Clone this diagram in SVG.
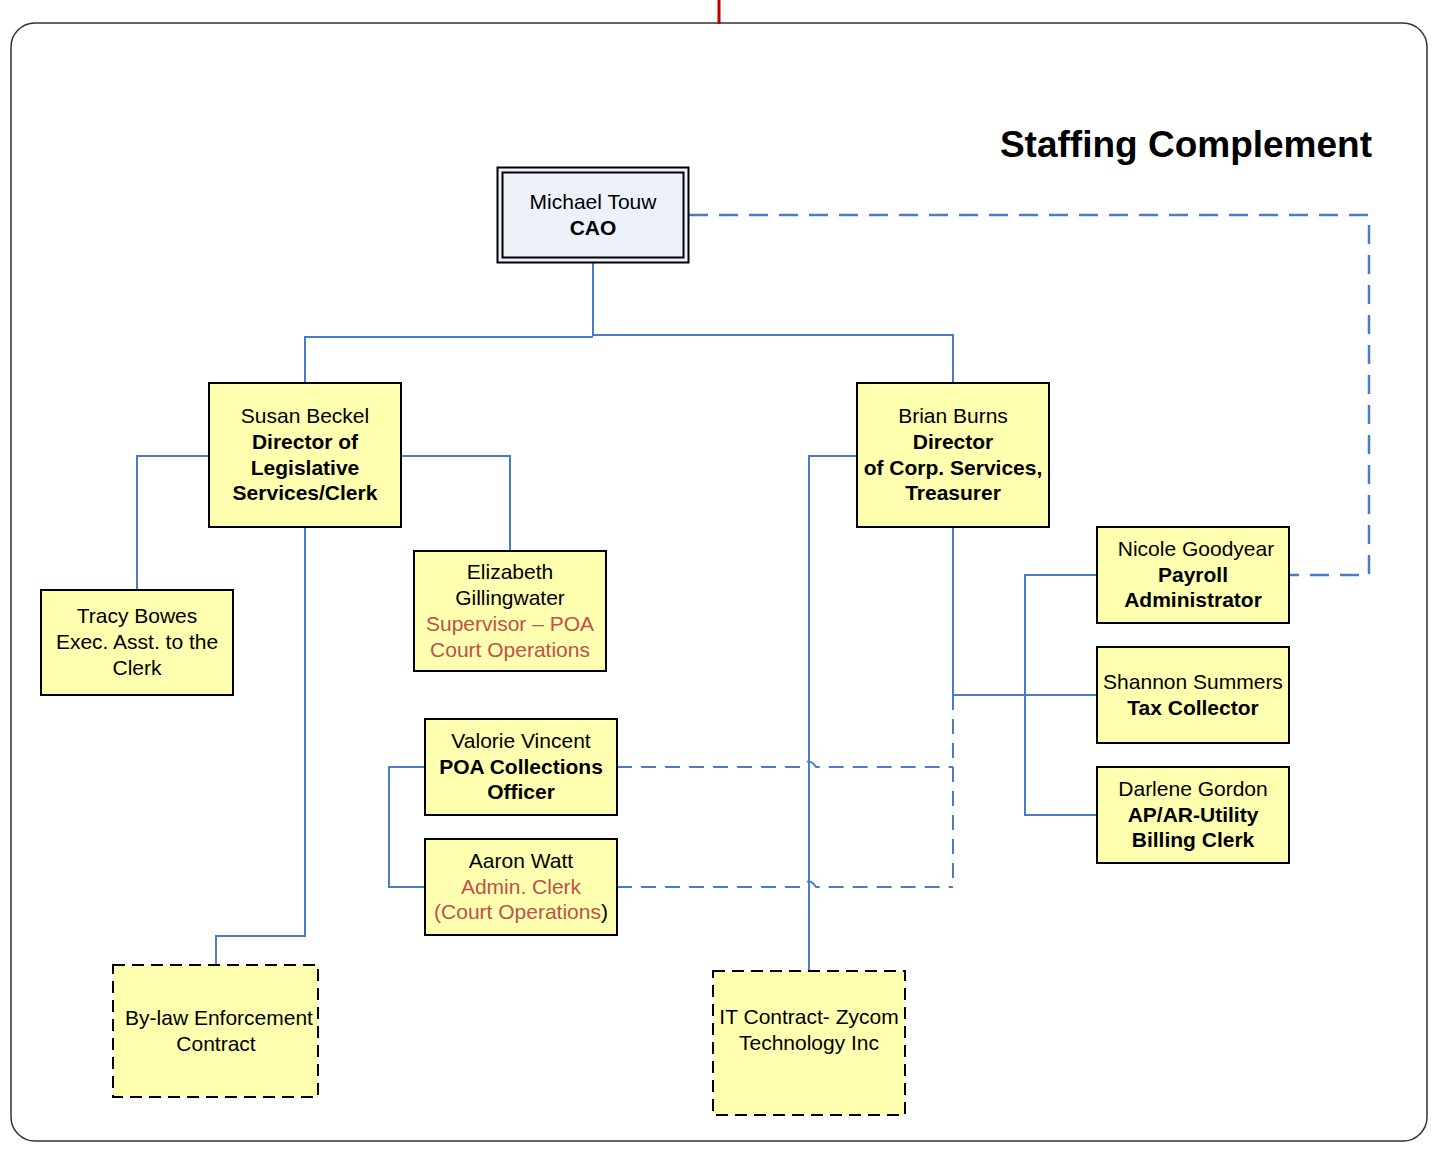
<svg xmlns="http://www.w3.org/2000/svg" width="1448" height="1149" viewBox="0 0 1448 1149">
<style>
text{font-family:"Liberation Sans",Arial,sans-serif;font-size:21px;fill:#000;text-anchor:middle}
.b{font-weight:bold}
.r{fill:#C0504D}
.box{fill:#FFFFB0;stroke:#000;stroke-width:2}
.dbox{fill:#FFFFB0;stroke:#000;stroke-width:2;stroke-dasharray:12 7}
.c{fill:none;stroke:#4A7CC7;stroke-width:2}
.cd{fill:none;stroke:#4A7CC7;stroke-width:2;stroke-dasharray:15 9}
.cd2{fill:none;stroke:#4A7CC7;stroke-width:2.5;stroke-dasharray:19 11}
</style>
<rect x="11" y="23" width="1416" height="1118" rx="24" fill="#fff" stroke="#333" stroke-width="1.5"/>
<line x1="719" y1="0" x2="719" y2="24" stroke="#C00000" stroke-width="3"/>
<text x="1372" y="157" class="b" style="font-size:37px;text-anchor:end">Staffing Complement</text>
<g id="connectors">
<path class="c" d="M593,263 V336 M305,383 V337 H593 M593,335 H953 V383"/>
<path class="c" d="M209,456 H137 V590"/>
<path class="c" d="M401,456 H510 V551"/>
<path class="c" d="M305,527 V936 H216 V965"/>
<path class="c" d="M857,456 H809 V971"/>
<path class="c" d="M953,527 V695 H1097"/>
<path class="c" d="M1097,575 H1025 V815 H1097"/>
<path class="c" d="M425,767 H389 V887 H425"/>
<path class="cd" d="M953,695 V887"/>
<path class="cd" d="M617,767 H802 Q809,756 816,767 H953"/>
<path class="cd" d="M617,887 H802 Q809,876 816,887 H953"/>
<path class="cd2" d="M689,215 H1369 V575 H1289"/>
</g>
<g id="cao">
<rect x="497.5" y="167.5" width="191" height="95" fill="#EDF1F9" stroke="#000" stroke-width="2"/>
<rect x="502.5" y="172.5" width="181" height="85" fill="none" stroke="#000" stroke-width="2"/>
<text x="593" y="209">Michael Touw</text>
<text x="593" y="235" class="b">CAO</text>
</g>
<g id="susan">
<rect class="box" x="209" y="383" width="192" height="144"/>
<text x="305" y="423">Susan Beckel</text>
<text x="305" y="449" class="b">Director of</text>
<text x="305" y="475" class="b">Legislative</text>
<text x="305" y="500" class="b">Services/Clerk</text>
</g>
<g id="brian">
<rect class="box" x="857" y="383" width="192" height="144"/>
<text x="953" y="423">Brian Burns</text>
<text x="953" y="449" class="b">Director</text>
<text x="953" y="475" class="b">of Corp. Services,</text>
<text x="953" y="500" class="b">Treasurer</text>
</g>
<g id="tracy">
<rect class="box" x="41" y="590" width="192" height="105"/>
<text x="137" y="623">Tracy Bowes</text>
<text x="137" y="649">Exec. Asst. to the</text>
<text x="137" y="675">Clerk</text>
</g>
<g id="elizabeth">
<rect class="box" x="414" y="551" width="192" height="120"/>
<text x="510" y="579">Elizabeth</text>
<text x="510" y="605">Gillingwater</text>
<text x="510" y="631" class="r">Supervisor – POA</text>
<text x="510" y="657" class="r">Court Operations</text>
</g>
<g id="valorie">
<rect class="box" x="425" y="719" width="192" height="96"/>
<text x="521" y="748">Valorie Vincent</text>
<text x="521" y="774" class="b">POA Collections</text>
<text x="521" y="799" class="b">Officer</text>
</g>
<g id="aaron">
<rect class="box" x="425" y="839" width="192" height="96"/>
<text x="521" y="868">Aaron Watt</text>
<text x="521" y="894" class="r">Admin. Clerk</text>
<text x="521" y="919"><tspan class="r">(Court Operations</tspan>)</text>
</g>
<g id="nicole">
<rect class="box" x="1097" y="527" width="192" height="96"/>
<text x="1196" y="556">Nicole Goodyear</text>
<text x="1193" y="582" class="b">Payroll</text>
<text x="1193" y="607" class="b">Administrator</text>
</g>
<g id="shannon">
<rect class="box" x="1097" y="647" width="192" height="96"/>
<text x="1193" y="689">Shannon Summers</text>
<text x="1193" y="715" class="b">Tax Collector</text>
</g>
<g id="darlene">
<rect class="box" x="1097" y="767" width="192" height="96"/>
<text x="1193" y="796">Darlene Gordon</text>
<text x="1193" y="822" class="b">AP/AR-Utility</text>
<text x="1193" y="847" class="b">Billing Clerk</text>
</g>
<g id="bylaw">
<rect class="dbox" x="113" y="965" width="205" height="132"/>
<text x="219" y="1025">By-law Enforcement</text>
<text x="216" y="1051">Contract</text>
</g>
<g id="it">
<rect class="dbox" x="713" y="971" width="192" height="144"/>
<text x="809" y="1024">IT Contract- Zycom</text>
<text x="809" y="1050">Technology Inc</text>
</g>
</svg>
